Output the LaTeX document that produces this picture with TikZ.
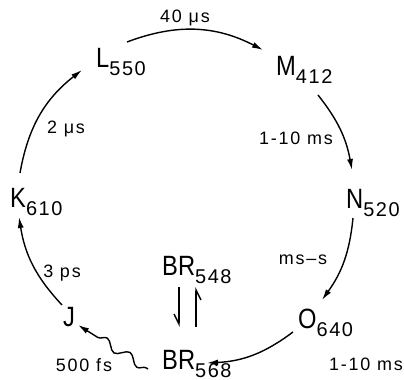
\documentclass[tikz,border=0pt]{standalone}
\usepackage{fontspec}
\setmainfont{Liberation Sans}
\newfontfamily\bigfont[FakeStretch=0.85]{Liberation Sans}
\newfontfamily\subfont[LetterSpace=8]{Liberation Sans}
\newfontfamily\labfont[LetterSpace=10]{Liberation Sans}
\usetikzlibrary{arrows.meta,decorations.pathmorphing}
\newcommand{\stname}[2]{\bigfont\fontsize{28}{28}\selectfont #1\raisebox{-8bp}{\subfont\fontsize{20}{20}\selectfont #2}}
\begin{document}
\begin{tikzpicture}[x=1bp,y=1bp,
  state/.style={inner sep=0pt, anchor=base west},
  lab/.style={font=\labfont\fontsize{18}{18}\selectfont, inner sep=0pt},
  arr/.style={line width=1.4bp, -{Latex[length=11bp,width=6bp]}},
  harp/.style={line width=1.4bp, -{Straight Barb[harpoon,swap,length=10bp,width=10bp]}}]
\useasboundingbox (0,0) rectangle (404,380);
% states
\node[state] (K) at (10,173) {\stname{K}{610}};
\node[state] (L) at (96,313) {\stname{L}{550}};
\node[state] (M) at (276,305) {\stname{M}{412}};
\node[state] (N) at (346,172) {\stname{N}{520}};
\node[state] (O) at (298,52) {\stname{O}{640}};
\node[state] (B1) at (162,105) {\stname{BR}{548}};
\node[state] (B0) at (162,11) {\stname{BR}{568}};
\node[state] (J) at (63,54) {\bigfont\fontsize{28}{28}\selectfont J};
% labels
\node[lab] (l1) at (185,362) {40 μs};
\node[lab] (l2) at (66,251) {2 μs};
\node[lab] (l3) at (296,242) {1-10 ms};
\node[lab] (l4) at (303,120) {ms–s};
\node[lab] (l5) at (62,107) {3 ps};
\node[lab] (l6) at (84,15) {500 fs};
\node[lab] (l7) at (366,16) {1-10 ms};
% cycle arrows
\draw[arr] ([shift={(10,34)}]K.base west) to[bend left=21] ([shift={(-14,-3)}]L.base west);
\draw[arr] ([shift={(31,25)}]L.base west) to[bend left=24] ([shift={(-13,25)}]M.base west);
\draw[arr] ([shift={(42,-20)}]M.base west) to[bend left=14] ([shift={(6,38)}]N.base west);
\draw[arr] ([shift={(7,-10)}]N.base west) to[bend left=15] ([shift={(24,28)}]O.base west);
\draw[arr] ([shift={(-5,-4)}]O.base west) to[bend left=17] ([shift={(45,6)}]B0.base west);
\draw[arr] ([shift={(-1,21)}]J.base west) to[bend left=17] ([shift={(9,-10)}]K.base west);
% photon step
\draw[arr, decorate, decoration={snake, amplitude=4.5bp, segment length=27bp, pre length=2bp, post length=10bp}]
  ([shift={(-14,0)}]B0.base west) -- ([shift={(15,1)}]J.base west);
% equilibrium
\draw[harp] ([shift={(17,-12)}]B1.base west) -- ([shift={(17,42)}]B0.base west);
\draw[harp] ([shift={(34,42)}]B0.base west) -- ([shift={(34,-12)}]B1.base west);
\end{tikzpicture}
\end{document}
